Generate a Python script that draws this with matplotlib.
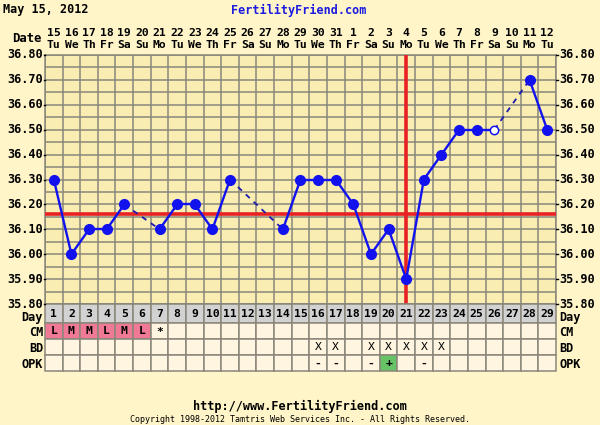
import matplotlib
matplotlib.use("Agg")
import matplotlib.pyplot as plt
from matplotlib.patches import Rectangle
from matplotlib.transforms import blended_transform_factory
import numpy as np

# ---------------- data ----------------
cycle_days = list(range(1, 30))
date_nums = ["15", "16", "17", "18", "19", "20", "21", "22", "23", "24", "25", "26", "27", "28",
             "29", "30", "31", "1", "2", "3", "4", "5", "6", "7", "8", "9", "10", "11", "12"]
weekdays = ["Tu", "We", "Th", "Fr", "Sa", "Su", "Mo"] * 4 + ["Tu"]
temps = [36.30, 36.00, 36.10, 36.10, 36.20, None, 36.10, 36.20, 36.20, 36.10,
         36.30, None, None, 36.10, 36.30, 36.30, 36.30, 36.20, 36.00, 36.10,
         35.90, 36.30, 36.40, 36.50, 36.50, 36.50, None, 36.70, 36.50]
discarded_days = [26]
coverline = 36.16
ovulation_day = 21
ytick_vals = [35.80, 35.90, 36.00, 36.10, 36.20, 36.30, 36.40, 36.50, 36.60, 36.70, 36.80]
cm_values = {1: "L", 2: "M", 3: "M", 4: "L", 5: "M", 6: "L", 7: "*"}
cm_colored = [1, 2, 3, 4, 5, 6]
bd_days = [16, 17, 19, 20, 21, 22, 23]
opk_values = {16: "-", 17: "-", 19: "-", 20: "+", 22: "-"}
opk_positive = [20]

# ---------------- styling ----------------
BG = "#FFF5C9"
PLOT_BG = "#F9EDB2"
GRID = "#8A877A"
CELL = "#FFF5E0"
DAYROW = "#D2D2D2"
PINK = "#F07A96"
GREEN = "#66C466"
BLUE = "#1212EE"
RED = "#E82222"
MONO = "DejaVu Sans Mono"

W, H = 600, 425
fig = plt.figure(figsize=(W / 100, H / 100), dpi=100, facecolor=BG)


def fx(px):
    return px / W


def fy(py):
    return 1 - py / H


L, R = 45, 556
TOP, BOT = 55, 304
ax = fig.add_axes([fx(L), fy(BOT), (R - L) / W, (BOT - TOP) / H])
ax.set_facecolor(PLOT_BG)
ax.set_xlim(0.5, 29.5)
ax.set_ylim(35.80, 36.80)

# grid
for xv in np.arange(0.5, 30.0, 1.0):
    ax.axvline(xv, color=GRID, lw=1.1, zorder=1)
for yv in np.arange(35.80, 36.81, 0.05):
    ax.axhline(yv, color=GRID, lw=1.1, zorder=1)
for s in ax.spines.values():
    s.set_color(GRID)
    s.set_linewidth(1.1)
ax.set_xticks([])
ax.set_yticks([])

# coverline and ovulation line
ax.axhline(coverline, color=RED, lw=2.6, zorder=3)
ax.axvline(ovulation_day, ymin=0.008, ymax=1, color=RED, lw=2.6, zorder=3)

# temperature line
pts = [(d, t) for d, t in zip(cycle_days, temps) if t is not None]
for (d0, t0), (d1, t1) in zip(pts[:-1], pts[1:]):
    if d1 - d0 == 1:
        ax.plot([d0, d1], [t0, t1], color=BLUE, lw=1.7, zorder=4, solid_capstyle="round")
    else:
        ax.plot([d0, d1], [t0, t1], color="#1A1AB0", lw=1.3, ls=(0, (3, 3)), zorder=4)
for d, t in pts:
    if d in discarded_days:
        ax.plot(d, t, "o", ms=6, mfc="white", mec=BLUE, mew=1.1, zorder=5)
    else:
        ax.plot(d, t, "o", ms=7, mfc=BLUE, mec=BLUE, zorder=5)

# y tick labels both sides
ytrans = blended_transform_factory(fig.transFigure, ax.transData)
for v in ytick_vals:
    fig.text(fx(43), v, f"{v:.2f}", transform=ytrans, ha="right", va="center",
             family=MONO, fontweight="bold", fontsize=8.6)
    fig.text(fx(559), v, f"{v:.2f}", transform=ytrans, ha="left", va="center",
             family=MONO, fontweight="bold", fontsize=8.6)
    fig.add_artist(plt.Line2D([fx(43.5), fx(L)], [v, v], transform=ytrans, color="black", lw=1))
    fig.add_artist(plt.Line2D([fx(R), fx(558)], [v, v], transform=ytrans, color="black", lw=1))

# header dates
xtrans = blended_transform_factory(ax.transData, fig.transFigure)
for d, n, w in zip(cycle_days, date_nums, weekdays):
    fig.text(d, fy(33), n, transform=xtrans, ha="center", va="center",
             family=MONO, fontweight="bold", fontsize=8.2)
    fig.text(d, fy(45.5), w, transform=xtrans, ha="center", va="center",
             family=MONO, fontweight="bold", fontsize=8.2)
fig.text(fx(42), fy(38.5), "Date", ha="right", va="center", family=MONO,
         fontweight="bold", fontsize=8.8)

fig.text(fx(3), fy(10), "May 15, 2012", ha="left", va="center", family=MONO,
         fontweight="bold", fontsize=8.5)
fig.text(fx(299), fy(10), "FertilityFriend.com", ha="center", va="center", family=MONO,
         fontweight="bold", fontsize=8.5, color="#1A1AE0")

# ---------------- table ----------------
TB = 371
tax = fig.add_axes([fx(L), fy(TB), (R - L) / W, (TB - BOT) / H])
tax.set_xlim(0.5, 29.5)
tax.set_ylim(TB - BOT, 0)
tax.axis("off")
rows = [("Day", 0, 19, 13), ("CM", 19, 35, 29), ("BD", 35, 51, 45), ("OPK", 51, 67, 60)]
for name, y0, y1, ylab in rows:
    for d in cycle_days:
        fc = CELL
        if name == "Day":
            fc = DAYROW
        elif name == "CM" and d in cm_colored:
            fc = PINK
        elif name == "OPK" and d in opk_positive:
            fc = GREEN
        tax.add_patch(Rectangle((d - 0.5, y0), 1, y1 - y0, fc=fc, ec=GRID, lw=1.1,
                                clip_on=False))
        txt = ""
        if name == "Day":
            txt = str(d)
        elif name == "CM":
            txt = cm_values.get(d, "")
        elif name == "BD":
            txt = "X" if d in bd_days else ""
        elif name == "OPK":
            txt = opk_values.get(d, "")
        if txt:
            tax.text(d, (y0 + y1) / 2 + 0.5, txt, ha="center", va="center", family=MONO,
                     fontweight="bold" if name != "BD" else "normal", fontsize=8.2)
    yc = BOT + ylab
    fig.text(fx(43), fy(yc), name, ha="right", va="center", family=MONO,
             fontweight="bold", fontsize=8.6)
    fig.text(fx(559), fy(yc), name, ha="left", va="center", family=MONO,
             fontweight="bold", fontsize=8.6)

# footer
fig.text(fx(300), fy(406), "http://www.FertilityFriend.com", ha="center", va="center",
         family=MONO, fontweight="bold", fontsize=8.6)
fig.text(fx(300), fy(420), "Copyright 1998-2012 Tamtris Web Services Inc. - All Rights Reserved.",
         ha="center", va="center", family=MONO, fontsize=6)

fig.savefig("out.png", dpi=100, facecolor=BG)
